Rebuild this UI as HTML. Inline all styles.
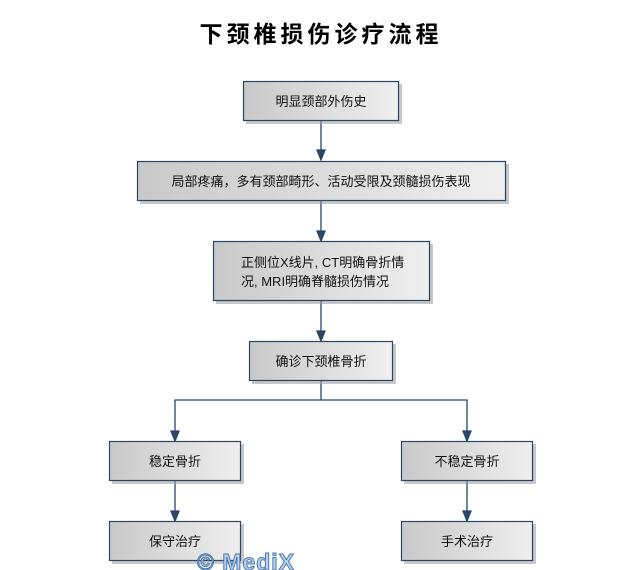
<!DOCTYPE html>
<html><head><meta charset="utf-8"><style>
html,body{margin:0;padding:0;background:#fff;}
svg{display:block;}
text{font-family:"Liberation Sans","Noto Sans CJK SC",sans-serif;font-size:13px;fill:#111;}
</style></head><body>
<svg width="642" height="570" viewBox="0 0 642 570" xmlns="http://www.w3.org/2000/svg">
<defs>
<linearGradient id="g" x1="0" y1="0" x2="1" y2="0">
<stop offset="0" stop-color="#c9c9c9"/><stop offset="1" stop-color="#efefef"/>
</linearGradient>
</defs>
<text x="321" y="42" text-anchor="middle" style="font-size:23px;font-weight:bold;letter-spacing:4px;fill:#000">下颈椎损伤诊疗流程</text>
<g stroke="#2a4566" stroke-width="1.3" fill="none">
<line x1="321" y1="121" x2="321" y2="151"/><path d="M317,150 L325,150 L321,160Z" fill="#2a4566"/>
<line x1="321" y1="201" x2="321" y2="231"/><path d="M317,231 L325,231 L321,241Z" fill="#2a4566"/>
<line x1="321" y1="301" x2="321" y2="331"/><path d="M317,331 L325,331 L321,341Z" fill="#2a4566"/>
<polyline points="321,381 321,400"/>
<polyline points="175,431 175,400 467,400 467,431"/>
<path d="M171,431 L179,431 L175,441Z" fill="#2a4566"/>
<path d="M463,431 L471,431 L467,441Z" fill="#2a4566"/>
<line x1="175" y1="481" x2="175" y2="511"/><path d="M171,511 L179,511 L175,521Z" fill="#2a4566"/>
<line x1="467" y1="481" x2="467" y2="511"/><path d="M463,511 L471,511 L467,521Z" fill="#2a4566"/>
</g>
<g>
<g fill="#9a9a9a" opacity="0.55">
<rect x="246" y="84" width="156" height="40"/>
<rect x="140" y="164" width="369" height="40"/>
<rect x="216" y="244" width="217" height="60"/>
<rect x="252" y="344" width="144" height="40"/>
<rect x="112" y="444" width="132" height="40"/>
<rect x="404" y="444" width="132" height="40"/>
<rect x="112" y="524" width="132" height="40"/>
<rect x="404" y="524" width="132" height="40"/>
</g>
<g fill="url(#g)" stroke="#2a4566" stroke-width="1.2">
<rect x="243.5" y="81.5" width="155" height="39"/>
<rect x="137.5" y="161.5" width="368" height="39"/>
<rect x="213.5" y="241.5" width="216" height="59"/>
<rect x="249.5" y="341.5" width="143" height="39"/>
<rect x="109.5" y="441.5" width="131" height="39"/>
<rect x="401.5" y="441.5" width="131" height="39"/>
<rect x="109.5" y="521.5" width="131" height="39"/>
<rect x="401.5" y="521.5" width="131" height="39"/>
</g>
</g>
<text x="321" y="106" text-anchor="middle">明显颈部外伤史</text>
<text x="321" y="186" text-anchor="middle">局部疼痛，多有颈部畸形、活动受限及颈髓损伤表现</text>
<text x="241" y="267">正侧位X线片, CT明确骨折情</text>
<text x="241" y="286">况, MRI明确脊髓损伤情况</text>
<text x="321" y="366" text-anchor="middle">确诊下颈椎骨折</text>
<text x="175" y="466" text-anchor="middle">稳定骨折</text>
<text x="467" y="466" text-anchor="middle">不稳定骨折</text>
<text x="175" y="546" text-anchor="middle">保守治疗</text>
<text x="467" y="546" text-anchor="middle">手术治疗</text>
<text x="246" y="570" text-anchor="middle" style="font-size:23px;font-weight:bold;fill:#bcd2ea;stroke:#4a78b0;stroke-width:1;letter-spacing:1px">© MediX</text>
</svg>
</body></html>
